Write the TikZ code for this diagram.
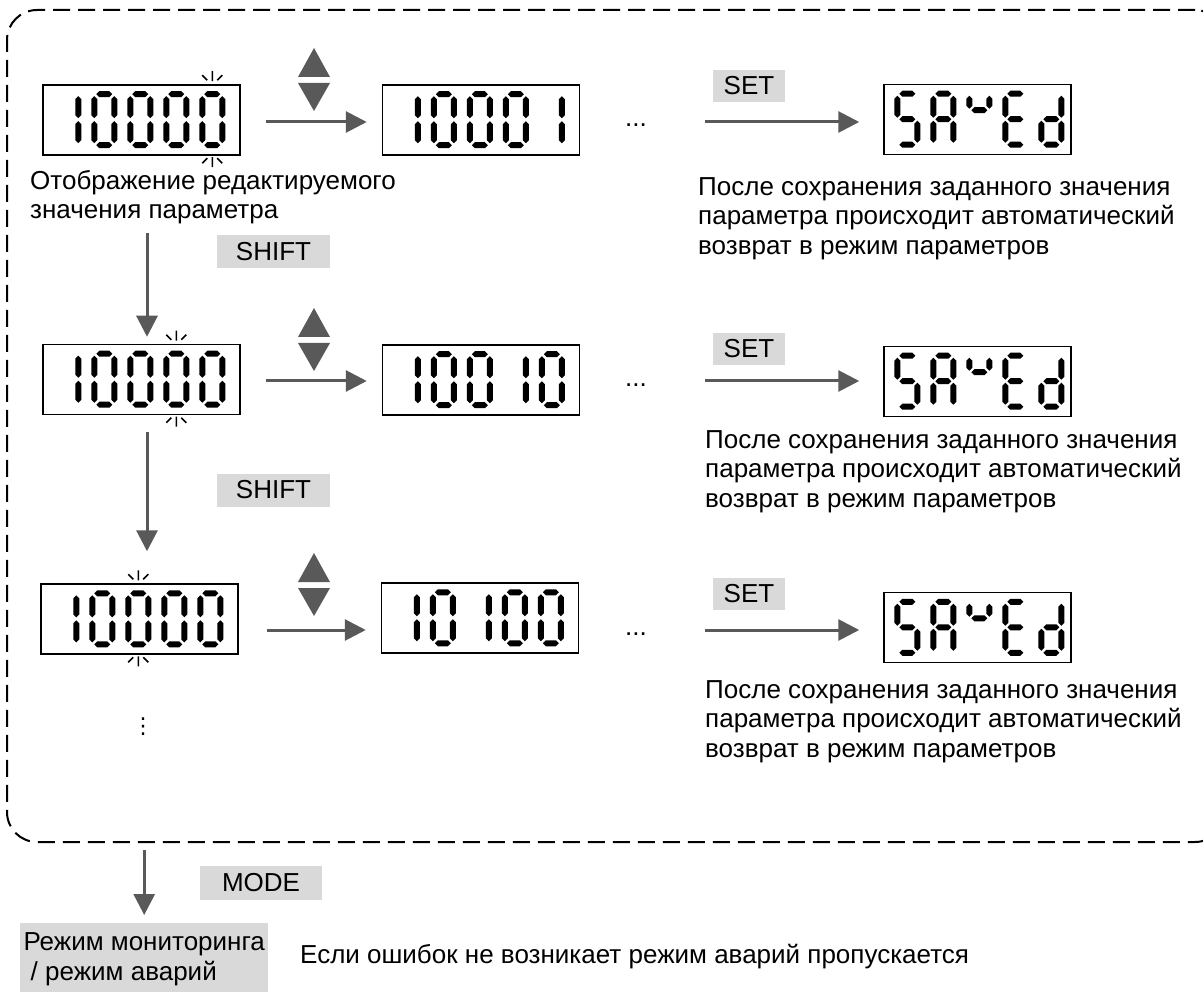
\documentclass[tikz,border=0pt]{standalone}
\usepackage{fontspec}
\setmainfont{Liberation Sans}
\newfontfamily\symfont{DejaVu Sans}
\usepackage{xcolor}
\usetikzlibrary{positioning,arrows.meta}

\definecolor{keygray}{HTML}{D9D9D9}
\definecolor{arrowgray}{HTML}{595959}

% one segment of a seven-segment digit, cell 26 x 57
\newcommand{\hseg}[3]{\fill (#1,#3) -- (#1+3,#3-3) -- (#2-3,#3-3) -- (#2,#3) -- (#2-3,#3+3) -- (#1+3,#3+3) -- cycle;}
\newcommand{\vseg}[3]{\fill (#1,#2) -- (#1+3,#2+3) -- (#1+3,#3-3) -- (#1,#3) -- (#1-3,#3-3) -- (#1-3,#2+3) -- cycle;}
\newcommand{\seg}[1]{\ifcase#1\or
  \hseg{5}{21}{3}\or
  \vseg{23}{5}{27}\or
  \vseg{23}{30}{52}\or
  \hseg{5}{21}{54}\or
  \vseg{3}{30}{52}\or
  \vseg{3}{5}{27}\or
  \hseg{5}{21}{28.5}\or
  % short strokes for the v
  \vseg{3}{5}{18}\or
  \vseg{23}{5}{18}\or
  \hseg{5}{21}{19.5}\fi}
\newcommand{\glyph}[1]{\foreach \segno in {#1}{\seg{\segno}}}
\newcommand{\dgZero}{\glyph{1,2,3,4,5,6}}
\newcommand{\dgOne}{\glyph{2,3}}
\newcommand{\dgS}{\glyph{1,6,7,3,4}}
\newcommand{\dgA}{\glyph{1,2,3,5,6,7}}
\newcommand{\dgV}{\glyph{8,9,10}}
\newcommand{\dgE}{\glyph{1,4,5,6,7}}
\newcommand{\dgD}{\glyph{2,3,4,5,7}}

% digits inside a display box
\newcommand{\readout}[3]{%
  \begin{scope}[shift={(#1.north west)}, xshift=#2]
    \foreach \dg [count=\i from 0] in {#3} {
      \begin{scope}[xshift=36*\i, yshift=-7] \dg \end{scope}
    }
  \end{scope}}
% blink marks over and under the edited digit
\newcommand{\blink}[2]{%
  \begin{scope}[shift={(#1.north west)}, xshift=26+36*(#2-1)]
    \draw[mark line] (0,-13) -- (0,-3) (-10,-9) -- (-5,-4) (10,-9) -- (5,-4);
    \draw[mark line] (0,73) -- (0,83) (-5,74) -- (-10,79) (5,74) -- (10,79);
  \end{scope}}
% up and down keys
\newcommand{\updown}[2]{%
  \fill[arrowgray] (#1,#2) -- ++(16,29) -- ++(-32,0) -- cycle;
  \fill[arrowgray] (#1-16,#2+35) -- ++(32,0) -- ++(-16,28) -- cycle;}

\begin{document}
\begin{tikzpicture}[x=1pt, y=-1pt, font=\fontsize{26}{29.5}\selectfont,
  lcd/.style={draw, line width=1.5pt, minimum width=197, minimum height=70, inner sep=0pt},
  key/.style={fill=keygray, inner sep=0pt},
  flow/.style={draw=arrowgray, line width=3pt, -{Triangle[length=21pt, width=21pt]}},
  mark line/.style={line width=1.5pt},
  frame/.style={draw, line width=2pt, dash pattern=on 17pt off 8pt, rounded corners=30pt,
    minimum width=1218, minimum height=832, inner sep=0pt},
  note/.style={anchor=north west, align=left, inner sep=0pt},
  gap/.style={anchor=base, inner sep=0pt}]
  \useasboundingbox (0,0) rectangle (1203,992);
  \clip (0,0) rectangle (1203,992);

  \node[frame] (frame) at (616,426) {};

  % displays
  \node[lcd] (a1) at (141.5,120) {};
  \node[lcd] (b1) at (481,120) {};
  \node[lcd, minimum width=187] (c1) at (977.5,119.5) {};
  \node[lcd] (a2) at (141.5,379.5) {};
  \node[lcd] (b2) at (481,380) {};
  \node[lcd, minimum width=187] (c2) at (977.5,381.5) {};
  \node[lcd] (a3) at (139.5,619) {};
  \node[lcd] (b3) at (480,618) {};
  \node[lcd, minimum width=187] (c3) at (977.5,627.5) {};

  \readout{a1}{13}{\dgOne,\dgZero,\dgZero,\dgZero,\dgZero}
  \readout{b1}{13}{\dgOne,\dgZero,\dgZero,\dgZero,\dgOne}
  \readout{a2}{13}{\dgOne,\dgZero,\dgZero,\dgZero,\dgZero}
  \readout{b2}{13}{\dgOne,\dgZero,\dgZero,\dgOne,\dgZero}
  \readout{a3}{13}{\dgOne,\dgZero,\dgZero,\dgZero,\dgZero}
  \readout{b3}{13}{\dgOne,\dgZero,\dgOne,\dgZero,\dgZero}
  \foreach \disp in {c1,c2,c3} {
    \readout{\disp}{11}{\dgS,\dgA,\dgV,\dgE,\dgD}
  }
  \blink{a1}{5}
  \blink{a2}{4}
  \blink{a3}{3}

  % keys
  \updown{314}{48}
  \updown{314}{308}
  \updown{314}{553}
  \node[key, minimum width=72, minimum height=32] (set1) at (749,86) {SET};
  \node[key, minimum width=72, minimum height=32] (set2) at (749,349) {SET};
  \node[key, minimum width=72, minimum height=32] (set3) at (749,594) {SET};
  \node[key, minimum width=113, minimum height=33] (shift1) at (273.5,251.5) {SHIFT};
  \node[key, minimum width=113, minimum height=33] (shift2) at (273.5,490) {SHIFT};
  \node[key, minimum width=122, minimum height=34] (mode) at (261,883) {MODE};

  \node[gap] (dots1) at (636,127) {...};
  \node[gap] (dots2) at (636,387) {...};
  \node[gap] (dots3) at (636,635) {...};
  \node[inner sep=0pt, font=\symfont\fontsize{22}{24}\selectfont] (more) at (143,727) {⋮};

  % texts
  \node[note] (edit) at (30,170) {Отображение редактируемого\\значения параметра};
  \node[note] (saved1) at (698,177) {После сохранения заданного значения\\параметра происходит автоматический\\возврат в режим параметров};
  \node[note] (saved2) at (705,430) {После сохранения заданного значения\\параметра происходит автоматический\\возврат в режим параметров};
  \node[note] (saved3) at (705,680) {После сохранения заданного значения\\параметра происходит автоматический\\возврат в режим параметров};
  \node[key, align=left, minimum width=248, minimum height=72, anchor=north west] (mon) at (20,923)
    {Режим мониторинга\\~/ режим аварий};
  \node[anchor=base west, inner sep=0pt] (skip) at (300,963) {Если ошибок не возникает режим аварий пропускается};

  % arrows
  \coordinate (r1) at (0,122);
  \coordinate (r2) at (0,381);
  \coordinate (r3) at (0,630);
  \coordinate (col) at (147,0);
  \draw[flow, shorten <=25pt, shorten >=15pt] (a1.east |- r1) -- (b1.west |- r1);
  \draw[flow, shorten <=25pt, shorten >=15pt] (a2.east |- r2) -- (b2.west |- r2);
  \draw[flow, shorten <=28pt, shorten >=15pt] (a3.east |- r3) -- (b3.west |- r3);
  \draw[flow, shorten <=58pt, shorten >=24pt] (dots1.east |- r1) -- (c1.west |- r1);
  \draw[flow, shorten <=58pt, shorten >=24pt] (dots2.east |- r2) -- (c2.west |- r2);
  \draw[flow, shorten <=58pt, shorten >=24pt] (dots3.east |- r3) -- (c3.west |- r3);
  \draw[flow, shorten <=77pt, shorten >=7pt] (a1.south -| col) -- (a2.north -| col);
  \draw[flow, shorten <=17pt, shorten >=32pt] (a2.south -| col) -- (a3.north -| col);
  \draw[flow, shorten <=7pt, shorten >=8pt] (frame.south -| mon.north) -- (mon.north);
\end{tikzpicture}
\end{document}
